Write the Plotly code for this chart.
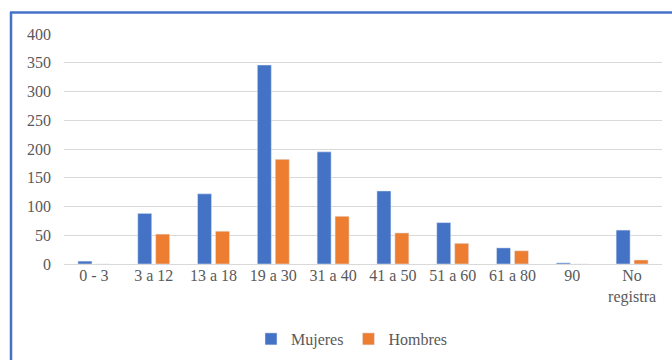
import plotly.graph_objects as go

categories = ["0 - 3", "3 a 12", "13 a 18", "19 a 30", "31 a 40", "41 a 50",
              "51 a 60", "61 a 80", "90", "No<br>registra"]
mujeres = [5, 88, 122, 346, 195, 127, 72, 28, 2, 59]
hombres = [0, 52, 57, 182, 83, 54, 36, 23, 0, 7]
y_ticks = [0, 50, 100, 150, 200, 250, 300, 350, 400]

W, H = 672, 360
ML, MR, MT, MB = 64, 10, 34, 96
pw = W - ML - MR
ph = H - MT - MB

def px(x):
    return (x - ML) / pw

def py(y):
    return 1 - (y - MT) / ph

font = "Liberation Serif"
gray = "#595959"

fig = go.Figure()
fig.add_trace(go.Bar(name="Mujeres", x=categories, y=mujeres, marker_color="#4472C4"))
fig.add_trace(go.Bar(name="Hombres", x=categories, y=hombres, marker_color="#ED7D31"))

fig.update_layout(
    width=W, height=H,
    margin=dict(l=ML, r=MR, t=MT, b=MB, autoexpand=False),
    paper_bgcolor="white", plot_bgcolor="white",
    barmode="group", bargap=0.4, bargroupgap=0.22,
    font=dict(family=font, size=16, color=gray),
    showlegend=True,
    legend=dict(orientation="h", x=px(352), xanchor="center", y=py(339), yanchor="middle",
                font=dict(family=font, size=16, color=gray), itemwidth=30, traceorder="normal"),
    xaxis=dict(showgrid=False, showline=False, zeroline=False, ticks="",
               tickfont=dict(family=font, size=16, color=gray)),
    yaxis=dict(range=[0, 400], tickvals=y_ticks, showgrid=True, gridcolor="#d9d9d9", gridwidth=1,
               zeroline=True, zerolinecolor="#d9d9d9", zerolinewidth=1, showline=False,
               ticks="", ticklabelstandoff=12,
               tickfont=dict(family=font, size=16, color=gray)),
    shapes=[
        dict(type="line", xref="paper", yref="paper", x0=px(11), x1=px(11), y0=py(12), y1=py(365),
             line=dict(color="#4472C4", width=2.5)),
        dict(type="line", xref="paper", yref="paper", x0=px(10), x1=px(675), y0=py(12.5), y1=py(12.5),
             line=dict(color="#4472C4", width=2.5)),
    ],
)

fig.write_html("out.html")
